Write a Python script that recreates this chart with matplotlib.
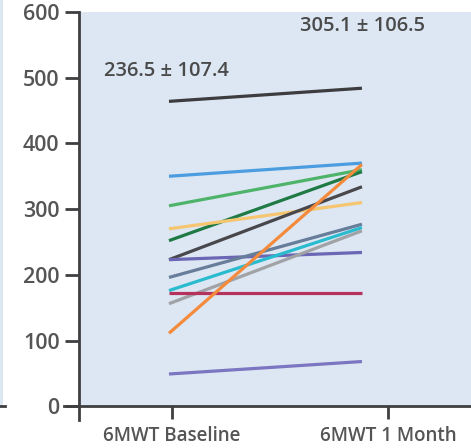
import matplotlib
matplotlib.use("Agg")
import matplotlib.pyplot as plt
from matplotlib.patches import Rectangle

# 6MWT distance per patient, baseline -> 1 month
baseline = [464, 350, 305, 252, 270, 223, 223, 196, 176, 156, 172, 111, 49]
month1 = [484, 370, 360, 357, 310, 334, 234, 277, 272, 267, 172, 368, 68]
colors = ['#3d3d3f', '#4b9de0', '#4fb36a', '#1f7a45', '#f6c56f', '#48484c',
          '#6b67b5', '#687d99', '#2bbbcf', '#a0a2a6', '#b5325c', '#f38a3c', '#7c75c2']

tick_labels = ['6MWT Baseline', '6MWT 1 Month']
annot_base = '236.5 \u00b1 107.4'
annot_month = '305.1 \u00b1 106.5'

text_col = '#4a4a4a'
bg = '#dce7f3'
plt.rcParams['font.family'] = ['Open Sans', 'DejaVu Sans']

fig = plt.figure(figsize=(4.71, 4.48), dpi=100)

# sliver of the neighbouring panel at the left edge
fig.patches.append(Rectangle((0, (448 - 407) / 448), 3 / 471, 407 / 448,
                             transform=fig.transFigure, facecolor=bg, edgecolor='none'))
fig.lines.append(plt.Line2D([0, 5 / 471], [(448 - 406) / 448] * 2, transform=fig.transFigure,
                            color='#3f3f42', lw=2))

ax = fig.add_axes([64 / 471, 28 / 448, 1 - 64 / 471, (420 - 12) / 448])
ax.set_xlim(-0.544, 1.565)
ax.set_ylim(-21, 600)
ax.patch.set_visible(False)

yax_x = -0.466
ax.add_patch(Rectangle((yax_x, 0), 1.565 - yax_x, 600, facecolor=bg, edgecolor='none', zorder=0))

for b, m, c in zip(baseline, month1, colors):
    ax.plot([0, 1], [b, m], color=c, lw=2.3, solid_capstyle='butt', zorder=2)

ax.text(-0.335, 510, annot_base, fontsize=14.5, color=text_col, fontweight='semibold', va='center')
ax.text(0.68, 578, annot_month, fontsize=14.5, color=text_col, fontweight='semibold', va='center')

for s in ['top', 'right']:
    ax.spines[s].set_visible(False)
ax.spines['left'].set_position(('data', yax_x))
ax.spines['bottom'].set_position(('data', 0))
ax.spines['left'].set_bounds(-21, 600)
ax.spines['bottom'].set_bounds(-0.544, 1.565)
for s in ['left', 'bottom']:
    ax.spines[s].set_linewidth(2)
    ax.spines[s].set_color('#3f3f42')

ax.set_yticks(range(0, 601, 100))
ax.set_xticks([0.016, 1.135])
ax.set_xticklabels(tick_labels)
ax.tick_params(axis='y', length=10, width=2, color='#3f3f42', pad=4,
               labelsize=15.5, labelcolor='#555555')
ax.tick_params(axis='x', length=9, width=2, color='#3f3f42', pad=5,
               labelsize=13.5, labelcolor='#555555')
for lbl in ax.get_xticklabels() + ax.get_yticklabels():
    lbl.set_fontweight('semibold')

fig.savefig('out.png', dpi=100)
